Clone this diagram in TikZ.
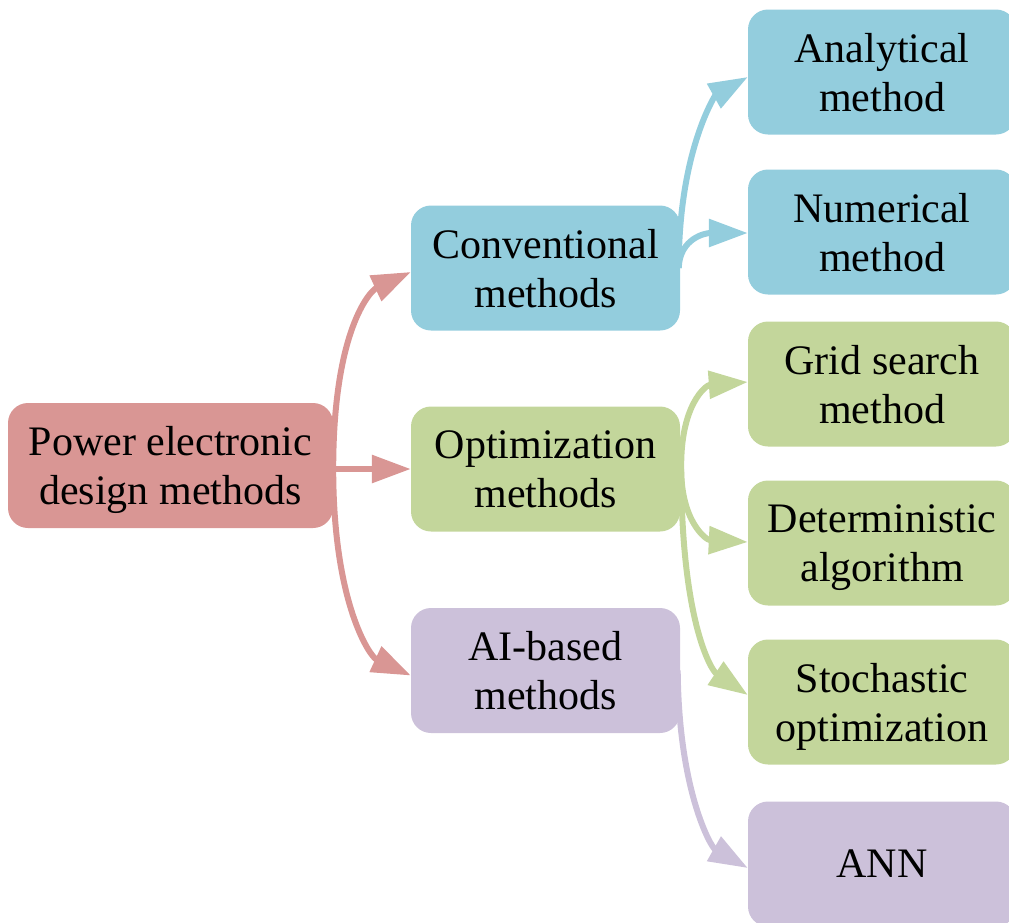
\documentclass[tikz,border=0pt]{standalone}
\usepackage{fontspec}
\setmainfont{Liberation Serif}
\usetikzlibrary{arrows.meta,backgrounds}
\definecolor{cred}{HTML}{D99694}
\definecolor{cblue}{HTML}{93CDDD}
\definecolor{cgreen}{HTML}{C3D69B}
\definecolor{cpurple}{HTML}{CCC1DA}
\tikzset{
  box/.style={rounded corners=20pt, inner sep=0pt, align=center,
    minimum height=125pt, text depth=0pt, font=\fontsize{42}{49}\selectfont},
  midbox/.style={box, minimum width=269pt},
  leafbox/.style={box, minimum width=268pt},
  link/.style={line width=6pt, -{Triangle[length=39pt,width=27pt]}},
}
\begin{document}
\begin{tikzpicture}[x=1pt, y=-1pt]
\useasboundingbox (0,0) rectangle (1009,922);
\clip (0,0) rectangle (1009,922);

% tree nodes
\node[box, fill=cred, minimum width=325pt] (pw) at (170.5,465.5) {Power electronic\\design methods};
\node[midbox, fill=cblue]   (cv) at (545.5,268) {Conventional\\methods};
\node[midbox, fill=cgreen]  (op) at (545.5,469) {Optimization\\methods};
\node[midbox, fill=cpurple] (ai) at (545.5,670.5) {AI-based\\methods};
\node[leafbox, fill=cblue]   (an) at (882,72)  {Analytical\\method};
\node[leafbox, fill=cblue]   (nu) at (882,232) {Numerical\\method};
\node[leafbox, fill=cgreen]  (gs) at (882,384) {Grid search\\method};
\node[leafbox, fill=cgreen]  (de) at (882,543) {Deterministic\\algorithm};
\node[leafbox, fill=cgreen]  (so) at (882,702) {Stochastic\\optimization};
\node[leafbox, fill=cpurple] (ann) at (882,864) {ANN};

% starting points of the branches, just inside the parents' right edges
% (shifts are in page points: a negative yshift moves down)
\coordinate (pwA) at (pw.east |- op.west);
\coordinate (cvA) at ([xshift=-1.5pt]cv.east);
\coordinate (opA) at ([xshift=1pt]op.east);
\coordinate (aiA) at ([xshift=-2.5pt]ai.east);

% connectors, behind the boxes
\begin{pgfonlayer}{background}
\draw[link, cred] (pwA) .. controls +(0,-138) and +(-41,19) .. ([yshift=-4pt]cv.west);
\draw[link, cred] (pwA) -- (op.west);
\draw[link, cred] (pwA) .. controls +(0,134) and +(-41,-19) .. ([yshift=-5pt]ai.west);
\draw[link, cblue] (cvA) .. controls +(0,-118) and +(-32,18) .. ([yshift=-5pt]an.west);
\draw[link, cblue] (cvA) .. controls +(1,-30) and +(-42,0) .. ([yshift=-1pt]nu.west);
\draw[link, cgreen] (opA) .. controls +(-1,-64) and +(-42,3) .. ([yshift=2pt]gs.west);
\draw[link, cgreen] (opA) .. controls +(0,52) and +(-42,-2) .. ([yshift=1pt]de.west);
\draw[link, cgreen] (opA) .. controls +(0,151) and +(-37,-25) .. ([yshift=7pt]so.west);
\draw[link, cpurple] (aiA) .. controls +(1,120) and +(-37,-21) .. ([yshift=-4pt]ann.west);
\end{pgfonlayer}
\end{tikzpicture}
\end{document}
